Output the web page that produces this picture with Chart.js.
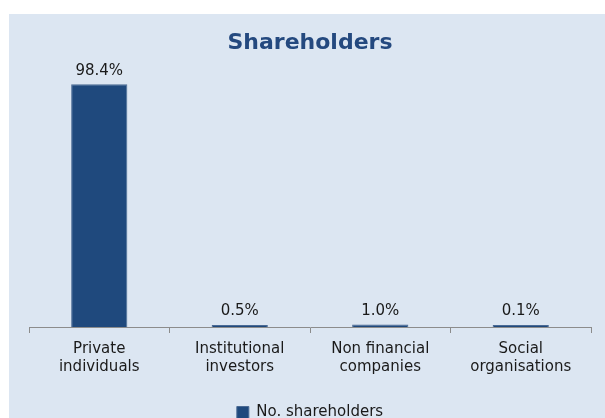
<!DOCTYPE html>
<html>
<head>
<meta charset="utf-8">
<script src="https://cdn.jsdelivr.net/npm/chart.js@4.4.1/dist/chart.umd.min.js"></script>
<style>
  html, body { margin: 0; padding: 0; background: #ffffff; overflow: hidden; }
  #panel { position: absolute; left: 9px; top: 14px; width: 596px; height: 404px; background: #dce6f2; overflow: hidden; }
</style>
</head>
<body>
<div id="panel"><canvas id="chart-shareholders" width="596" height="416"></canvas></div>
<script>
// dados
const categories = [['Private', 'individuals'], ['Institutional', 'investors'], ['Non financial', 'companies'], ['Social', 'organisations']];
const shareValues = [98.4, 0.5, 1.0, 0.1];
const seriesName = 'No. shareholders';

const fontFamily = "'DejaVu Sans', sans-serif";

// rótulos de valor acima das barras (posição pelo valor real, não pela barra mínima)
const valueLabels = {
    id: 'valueLabels',
    afterDatasetsDraw(chart) {
        const ctx = chart.ctx;
        const meta = chart.getDatasetMeta(0);
        const yScale = chart.scales.y;
        ctx.save();
        ctx.fillStyle = '#1a1a1a';
        ctx.font = '15px ' + fontFamily;
        ctx.textAlign = 'center';
        ctx.textBaseline = 'bottom';
        meta.data.forEach(function (bar, i) {
            const y = Math.min(bar.y, yScale.getPixelForValue(shareValues[i]));
            ctx.fillText(shareValues[i].toFixed(1) + '%', bar.x, y - 6);
        });
        ctx.restore();
    }
};

new Chart(document.getElementById('chart-shareholders').getContext('2d'), {
    type: 'bar',
    data: {
        labels: categories,
        datasets: [{
            label: seriesName,
            data: shareValues,
            backgroundColor: '#1f497d',
            borderColor: '#4a6a94',
            borderWidth: 1,
            minBarLength: 2,
            categoryPercentage: 1.0,
            barPercentage: 0.4
        }]
    },
    options: {
        responsive: false,
        animation: false,
        layout: { padding: { left: 20, right: 14, top: 0, bottom: 0 } },
        plugins: {
            title: {
                display: true,
                text: 'Shareholders',
                color: '#24497f',
                font: { family: fontFamily, size: 22, weight: 'bold', lineHeight: 1.2 },
                padding: { top: 16, bottom: 24 }
            },
            legend: {
                position: 'bottom',
                labels: {
                    color: '#1a1a1a',
                    font: { family: fontFamily, size: 15, lineHeight: 1.2 },
                    boxWidth: 12,
                    boxHeight: 12,
                    padding: 8
                }
            },
            tooltip: { enabled: false }
        },
        scales: {
            x: {
                grid: { display: true, drawOnChartArea: false, tickLength: 6, color: '#8c8c8c', offset: true },
                border: { color: '#8c8c8c' },
                ticks: {
                    color: '#1a1a1a',
                    font: { family: fontFamily, size: 15, lineHeight: 1.2 },
                    padding: 7,
                    maxRotation: 0
                },
                afterFit: function (scale) {
                    scale.height += 14;
                }
            },
            y: {
                display: false,
                min: 0,
                max: 100
            }
        }
    },
    plugins: [valueLabels]
});
</script>
</body>
</html>
